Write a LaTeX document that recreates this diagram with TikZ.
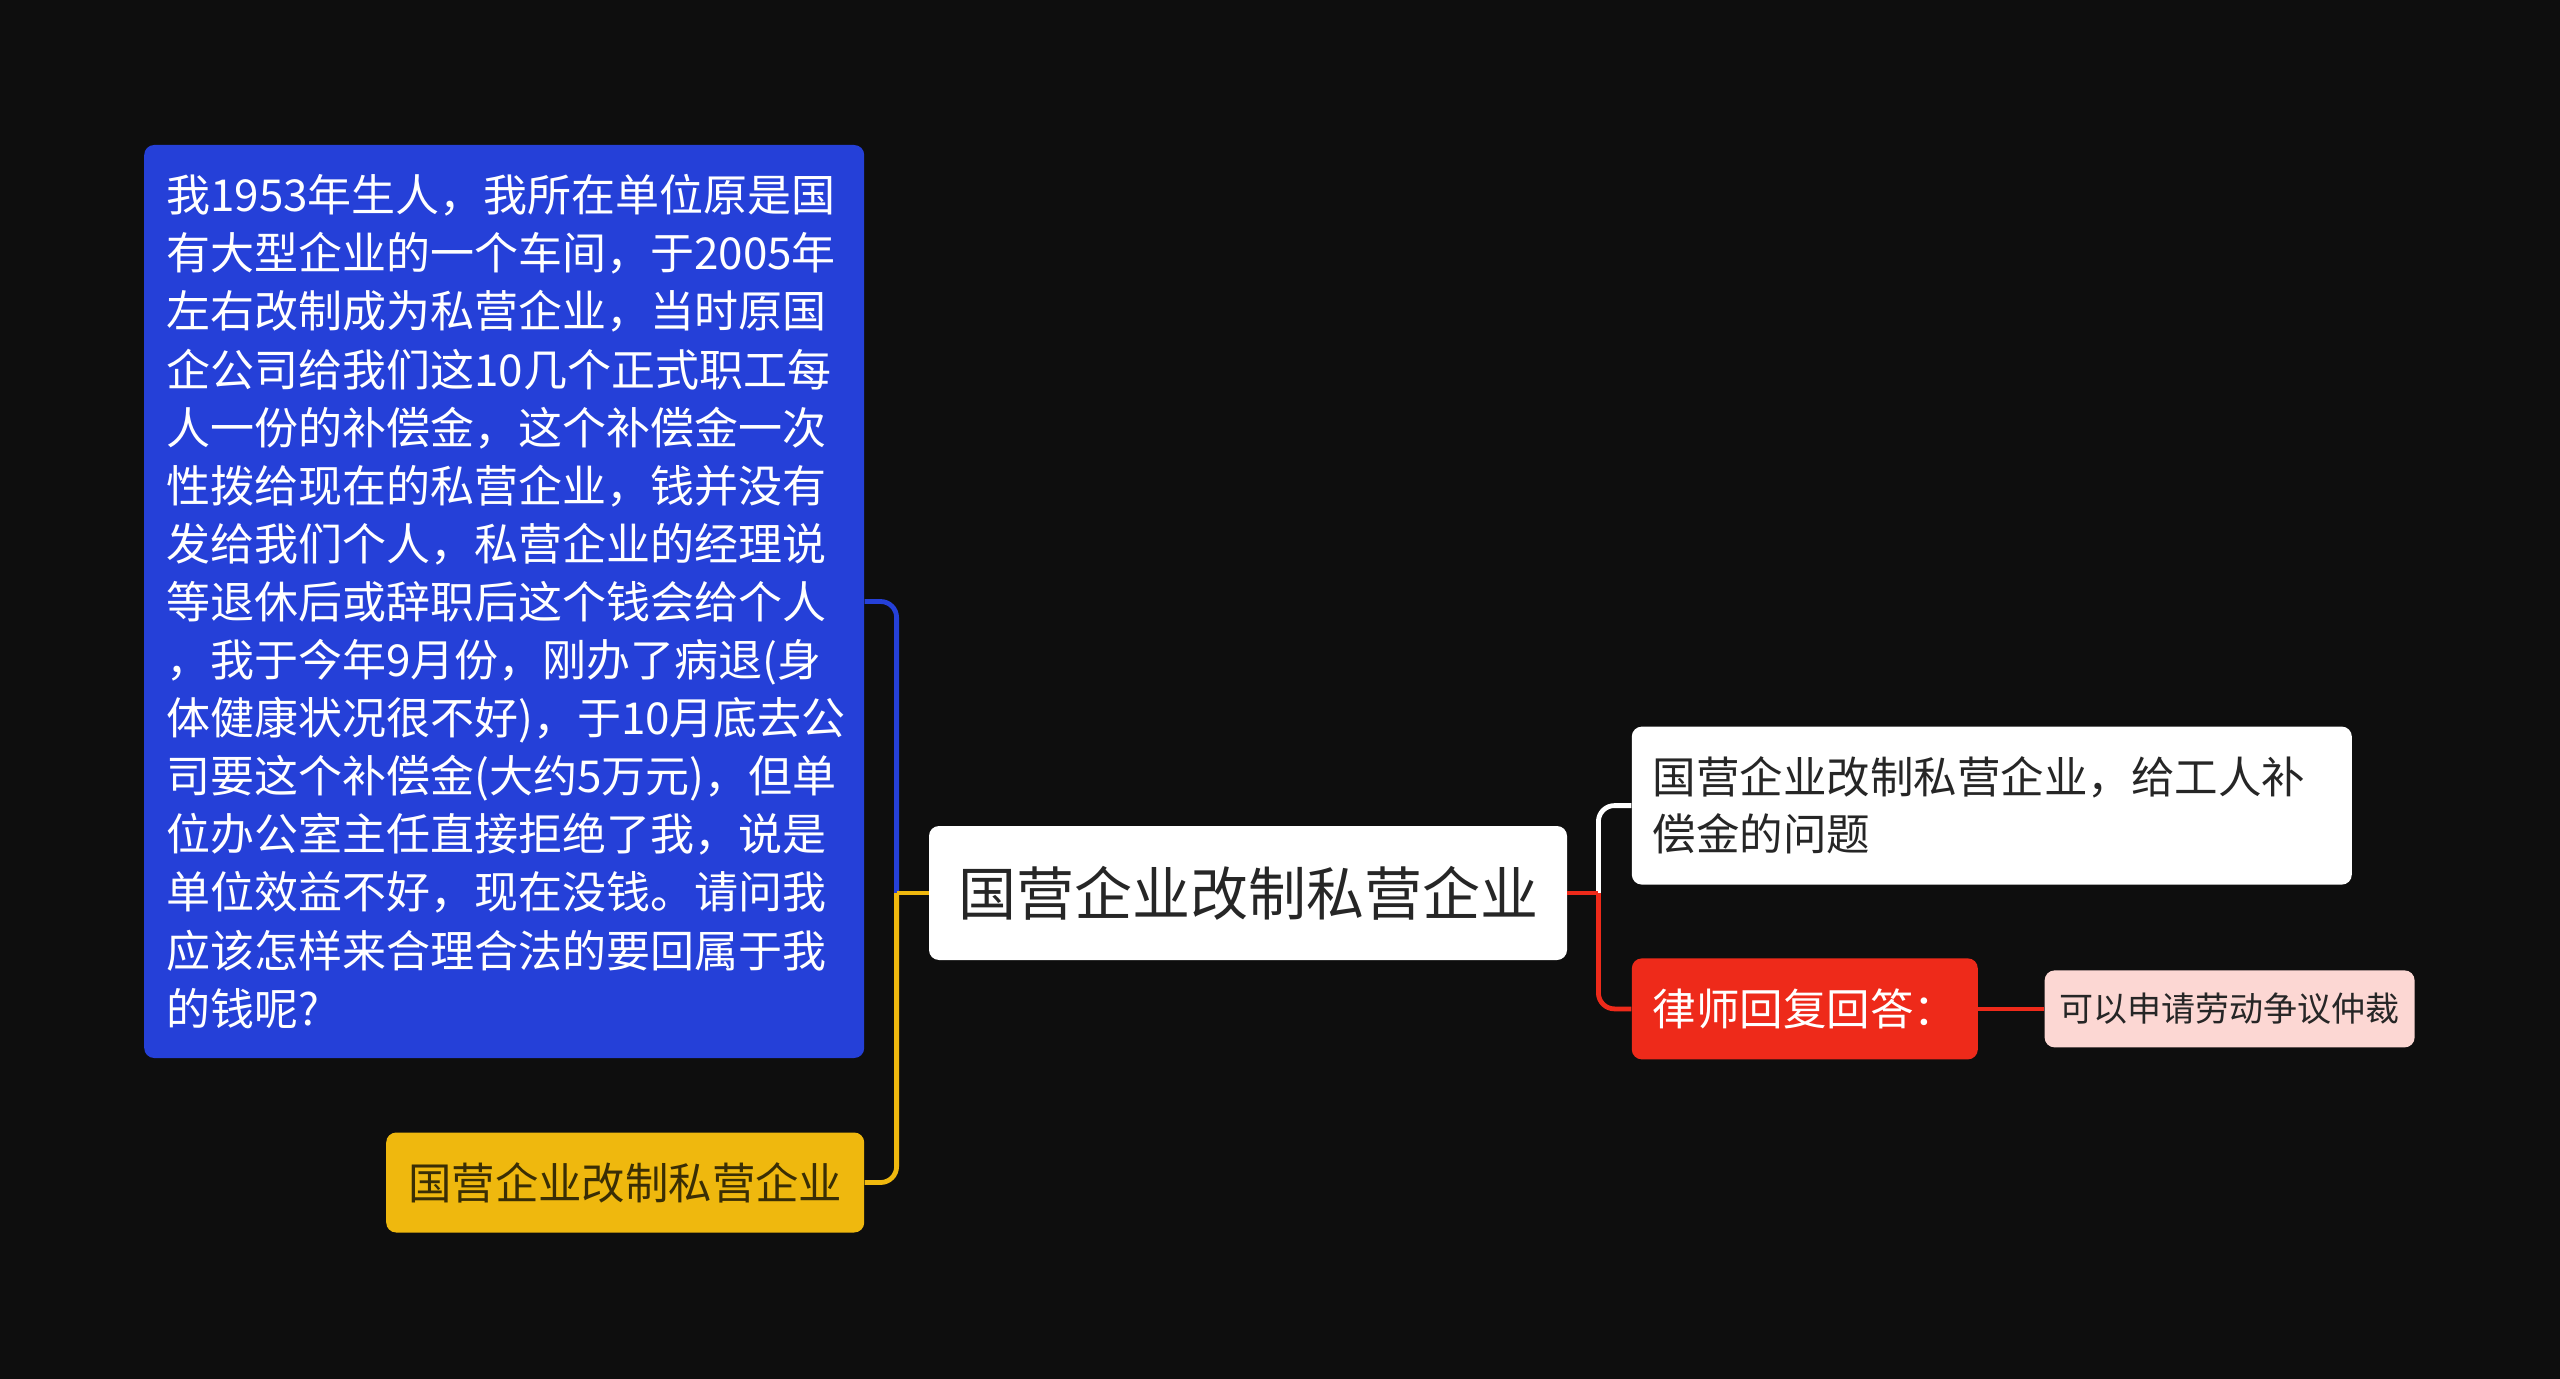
\documentclass[tikz,border=0pt]{standalone}
\usepackage{fontspec}
\setmainfont{Noto Sans CJK SC}
\usetikzlibrary{positioning}
\definecolor{bgc}{HTML}{0E0E0E}
\definecolor{blueb}{HTML}{2540D8}
\definecolor{yellowb}{HTML}{EFB80E}
\definecolor{redb}{HTML}{EE2A1A}
\definecolor{pinkb}{HTML}{FCD7D3}
\definecolor{darkt}{HTML}{262626}
\definecolor{brownt}{HTML}{3A2E05}
\tikzset{
    %Define standard box
    box/.style={
           rectangle,
           rounded corners=5pt,
           inner sep=0pt,
           text centered},
    rootbox/.style={box, fill=white, text=darkt,
           minimum width=319pt, minimum height=67pt,
           font=\fontsize{29pt}{36pt}\selectfont},
    storybox/.style={box, fill=blueb, text=white,
           text width=338pt, inner xsep=11pt, align=left,
           minimum height=456.5pt,
           font=\fontsize{22pt}{29.05pt}\selectfont},
    tagbox/.style={box, fill=yellowb, text=brownt,
           minimum width=239pt, minimum height=50pt,
           font=\fontsize{21.7pt}{28pt}\selectfont},
    qbox/.style={box, fill=white, text=darkt,
           text width=339pt, inner xsep=10.5pt, align=left,
           minimum height=79pt,
           font=\fontsize{21.75pt}{28.5pt}\selectfont},
    ansbox/.style={box, fill=redb, text=white,
           minimum width=173pt, minimum height=50.5pt,
           font=\fontsize{21.75pt}{28pt}\selectfont},
    arbbox/.style={box, fill=pinkb, text=darkt,
           minimum width=185pt, minimum height=38.5pt,
           font=\fontsize{17pt}{22pt}\selectfont},
    % Define line style
    lin/.style={line width=2.4pt}
}
\begin{document}
\begin{tikzpicture}[x=0.5pt,y=-0.5pt]
\fill[bgc] (0,0) rectangle (2560,1379);
\useasboundingbox (0,0) rectangle (2560,1379);
 %nodes
\node[rootbox] (root) at (1248,893) {国营企业改制私营企业};
\node[storybox, left=32pt of root.west, yshift=145.75pt] (story) {我1953年生人，我所在单位原是国\\
有大型企业的一个车间，于2005年\\
左右改制成为私营企业，当时原国\\
企公司给我们这10几个正式职工每\\
人一份的补偿金，这个补偿金一次\\
性拨给现在的私营企业，钱并没有\\
发给我们个人，私营企业的经理说\\
等退休后或辞职后这个钱会给个人\\
，我于今年9月份，刚办了病退(身\\
体健康状况很不好)，于10月底去公\\
司要这个补偿金(大约5万元)，但单\\
位办公室主任直接拒绝了我，说是\\
单位效益不好，现在没钱。请问我\\
应该怎样来合理合法的要回属于我\\
的钱呢?};
\node[tagbox, left=32pt of root.west, yshift=-144.75pt] (tag) {国营企业改制私营企业};
\node[qbox, above right=4pt and 32pt of root.east] (q) {国营企业改制私营企业，给工人补\\偿金的问题};
\node[ansbox, below right=32.5pt and 32pt of root.east] (ans) {律师回复回答：};
\node[arbbox, right=33pt of ans] (arb) {可以申请劳动争议仲裁};
\coordinate[left=16pt of root.west] (lj);
\coordinate[right=15.5pt of root.east] (rj);
 %connectors
\draw[lin, blueb, rounded corners=8pt] (story.east) -| (lj);
\draw[lin, yellowb, rounded corners=8pt] (tag.east) -| (lj);
\draw[lin, yellowb] (lj) -- (root.west);
\draw[lin, white, rounded corners=8pt] (rj) |- (q.west);
\draw[lin, redb, rounded corners=8pt] (rj) |- (ans.west);
\draw[lin, redb] (root.east) -- (rj);
\draw[lin, redb] (ans.east) -- (arb.west);
\end{tikzpicture}
\end{document}
